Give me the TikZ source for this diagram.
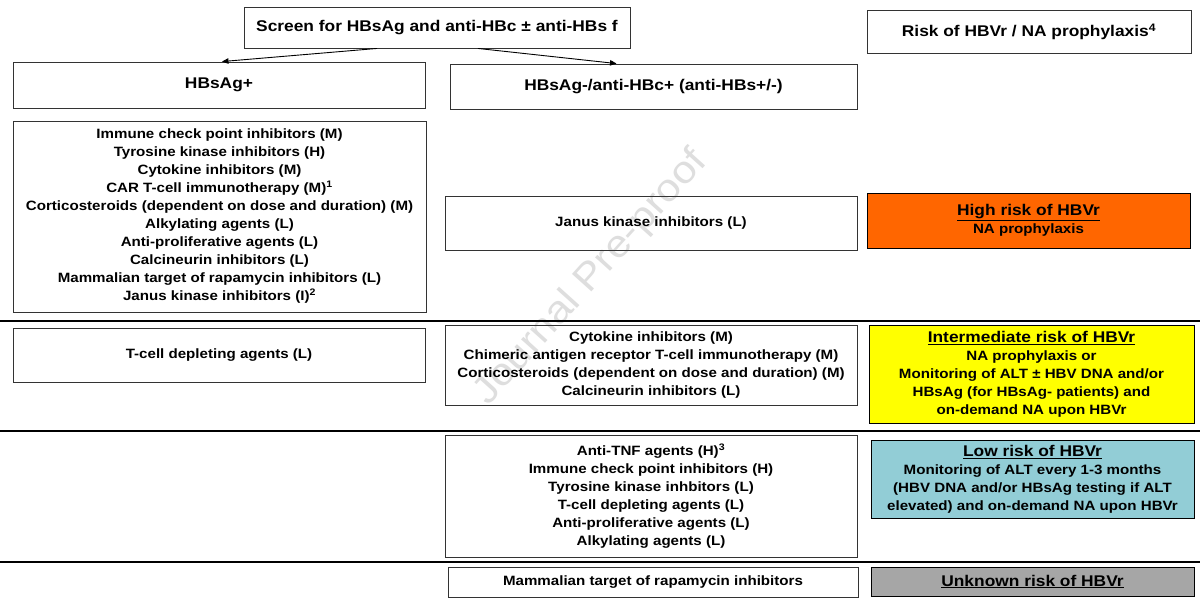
\documentclass[tikz,border=0pt]{standalone}
\usepackage{fontspec}
\setmainfont{Liberation Sans}[FakeStretch=1.12]
\usepackage{tikz}
\usetikzlibrary{positioning,arrows.meta,calc}
\definecolor{HighRisk}{RGB}{255,102,0}
\definecolor{MidRisk}{RGB}{255,255,0}
\definecolor{LowRisk}{RGB}{146,205,214}
\definecolor{NoRisk}{RGB}{166,166,166}
\definecolor{MarkGray}{RGB}{222,222,222}
\newcommand{\headfont}{\fontsize{15.5}{19}\selectfont}

\begin{document}
\begin{tikzpicture}[x=1pt, y=-1pt,
    box/.style={rectangle, draw=black!80, line width=0.9pt, align=center, inner sep=2pt,
                font=\fontsize{13.5}{18}\selectfont\bfseries},
    head/.style={box, font=\headfont\bfseries},
    risk/.style={box, draw=black, line width=1pt},
    sz/.style 2 args={minimum width=#1pt, minimum height=#2pt},
    sep/.style={line width=2.6pt, black},
    arr/.style={-{Triangle[length=6.5pt,width=5.5pt]}, line width=0.9pt},
    wmark/.style={text=MarkGray, font=\fontsize{38}{40}\selectfont}
]
    \fill[white] (0,0) rectangle (1200,606);
    \useasboundingbox (0,0) rectangle (1200,606);
    \node[wmark, rotate=48] (mark) at (591,278) {Journal Pre-proof};

    \node[head, sz={386}{41}] (screen) at (437,27.5) {Screen for HBsAg and anti-HBc ± anti-HBs f};
    \node[head, sz={324}{43}] (riskhead) at (1029,31.5) {Risk of HBVr / NA prophylaxis\textsuperscript{4}};
    \node[head, sz={412}{46}] (hbspos) at (219,85) {HBsAg+};
    \node[head, sz={407}{45}] (hbsneg) at (653.5,86.5) {HBsAg-/anti-HBc+ (anti-HBs+/-)};

    \node[box, sz={413}{191}] (leftlist) at (219.5,216.5) {Immune check point inhibitors (M)\\
        Tyrosine kinase inhibitors (H)\\ Cytokine inhibitors (M)\\
        CAR T-cell immunotherapy (M)\textsuperscript{1}\\
        Corticosteroids (dependent on dose and duration) (M)\\
        Alkylating agents (L)\\ Anti-proliferative agents (L)\\ Calcineurin inhibitors (L)\\
        Mammalian target of rapamycin inhibitors (L)\\ Janus kinase inhibitors (I)\textsuperscript{2}};
    \node[box, sz={412}{54}] (janus) at (651,223) {Janus kinase inhibitors (L)};
    \node[risk, fill=HighRisk, sz={323}{55}] (high) at (1028.5,220.5)
        {{\headfont\underline{High risk of HBVr}}\\ NA prophylaxis};

    \node[box, sz={412}{54}] (tcell) at (219,355) {T-cell depleting agents (L)};
    \node[box, sz={412}{80}] (midlist) at (651,365) {Cytokine inhibitors (M)\\
        Chimeric antigen receptor T-cell immunotherapy (M)\\
        Corticosteroids (dependent on dose and duration) (M)\\ Calcineurin inhibitors (L)};
    \node[risk, fill=MidRisk, sz={325}{98}] (inter) at (1031.5,374)
        {{\headfont\underline{Intermediate risk of HBVr}}\\ NA prophylaxis or\\
        Monitoring of ALT ± HBV DNA and/or\\ HBsAg (for HBsAg- patients) and\\
        on-demand NA upon HBVr};

    \node[box, sz={412}{122}] (lowlist) at (651,496) {Anti-TNF agents (H)\textsuperscript{3}\\
        Immune check point inhibitors (H)\\ Tyrosine kinase inhbitors (L)\\
        T-cell depleting agents (L)\\ Anti-proliferative agents (L)\\ Alkylating agents (L)};
    \node[risk, fill=LowRisk, sz={323}{78}] (low) at (1032.5,479)
        {{\headfont\underline{Low risk of HBVr}}\\ Monitoring of ALT every 1-3 months\\
        (HBV DNA and/or HBsAg testing if ALT\\ elevated) and on-demand NA upon HBVr};

    \node[box, sz={410}{30}] (mtor) at (653,582) {Mammalian target of rapamycin inhibitors};
    \node[risk, fill=NoRisk, sz={323}{29}] (unknown) at (1032.5,581.5)
        {{\headfont\underline{Unknown risk of HBVr}}};

    \draw[sep] (0,321) -- (1200,321);
    \draw[sep] (0,431) -- (1200,431);
    \draw[sep] (0,562) -- (1200,562);

    \draw[arr] ($(screen.south)+(-60,0)$) -- ($(hbspos.north)+(3,0)$);
    \draw[arr] ($(screen.south)+(41,0)$) -- ($(hbsneg.north)+(-37,0)$);
\end{tikzpicture}
\end{document}
